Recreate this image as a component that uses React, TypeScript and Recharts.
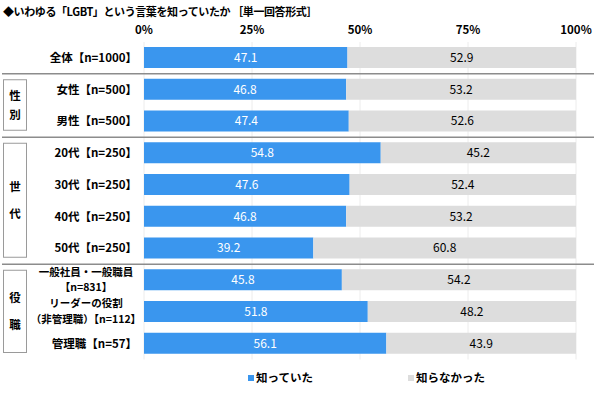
import React from 'react';
import { BarChart, Bar, XAxis, YAxis, CartesianGrid, LabelList, Customized } from 'recharts';

const categories = [
  '全体【n=1000】',
  '女性【n=500】',
  '男性【n=500】',
  '20代【n=250】',
  '30代【n=250】',
  '40代【n=250】',
  '50代【n=250】',
  '一般社員・一般職員\n【n=831】',
  'リーダーの役割\n（非管理職）【n=112】',
  '管理職【n=57】',
];
const knew = [47.1, 46.8, 47.4, 54.8, 47.6, 46.8, 39.2, 45.8, 51.8, 56.1];
const didNotKnow = [52.9, 53.2, 52.6, 45.2, 52.4, 53.2, 60.8, 54.2, 48.2, 43.9];
const xTicks = [0, 25, 50, 75, 100];
const seriesNames = ['知っていた', '知らなかった'];
const groups = [
  { label: '性別', from: 1, to: 2 },
  { label: '世代', from: 3, to: 6 },
  { label: '役職', from: 7, to: 9 },
];
const separatorsAfter = [0, 2, 6];
const title = '◆いわゆる「LGBT」という言葉を知っていたか ［単一回答形式］';

const data = categories.map((c, i) => ({ name: c, knew: knew[i], notKnew: didNotKnow[i] }));

const W = 600;
const H = 396;
const AXIS_H = 20;
const PLOT_TOP = 42;
const PLOT_BOTTOM = 359.5;
const M = { top: PLOT_TOP - AXIS_H, right: 24, bottom: H - PLOT_BOTTOM, left: 0 };
const YW = 144;
const BLUE = '#3A96EE';
const GRAY = '#DDDDDD';
const FONT = '"Noto Sans CJK JP", "Noto Sans", sans-serif';

const CatTick = (props: any) => {
  const { y, payload } = props;
  const lines = String(payload.value).split('\n');
  if (lines.length === 1) {
    return (
      <text x={137} y={y} dy={4} textAnchor="end" fontSize={11.5} fontWeight="bold" fill="#000" fontFamily={FONT}>
        {lines[0]}
      </text>
    );
  }
  return (
    <g>
      {lines.map((l, i) => (
        <text key={i} x={86} y={y + (i === 0 ? -8 : 7.5)} dy={3.5} textAnchor="middle" fontSize={10.5} fontWeight="bold" fill="#000" fontFamily={FONT}>
          {l}
        </text>
      ))}
    </g>
  );
};

const Decor = () => {
  const top = PLOT_TOP;
  const bottom = PLOT_BOTTOM;
  const band = (bottom - top) / categories.length;
  return (
    <g>
      <text x={3} y={16} fontSize={11} fontWeight="bold" fill="#000" fontFamily={FONT} letterSpacing={-0.4}>
        {title}
      </text>
      {separatorsAfter.map((i) => {
        const yy = top + band * (i + 1);
        return <line key={i} x1={2} x2={594} y1={yy} y2={yy} stroke="#8c8c8c" strokeWidth={1.5} />;
      })}
      {groups.map((g) => {
        const y1 = top + band * g.from + 6;
        const y2 = top + band * (g.to + 1) - 7;
        const cy = (y1 + y2) / 2;
        const gap = g.to - g.from >= 2 ? 27 : 19;
        return (
          <g key={g.label}>
            <rect x={3.5} y={y1} width={23} height={y2 - y1} fill="#fff" stroke="#9a9a9a" strokeWidth={1} />
            {g.label.split('').map((ch, k) => (
              <text key={k} x={15} y={cy + (k === 0 ? -gap / 2 : gap / 2)} dy={4} textAnchor="middle" fontSize={11.5} fontWeight="bold" fill="#000" fontFamily={FONT}>
                {ch}
              </text>
            ))}
          </g>
        );
      })}
      {[BLUE, GRAY].map((c, i) => {
        const lx = i === 0 ? 248 : 408;
        return (
          <g key={i}>
            <rect x={lx} y={375} width={6} height={6} fill={c} />
            <text x={lx + 8} y={382} fontSize={11.5} fontWeight="bold" fill="#000" fontFamily={FONT}>
              {seriesNames[i]}
            </text>
          </g>
        );
      })}
    </g>
  );
};

export default function App() {
  return (
    <div style={{ position: 'absolute', left: 0, top: 0, width: W, height: H, background: '#fff' }}>
      <BarChart width={W} height={H} data={data} layout="vertical" margin={M} barSize={21}>
        <CartesianGrid horizontal={false} vertical={true} stroke="#ececec" />
        <XAxis
          type="number"
          orientation="top"
          domain={[0, 100]}
          ticks={xTicks}
          tickFormatter={(v: number) => `${v}%`}
          axisLine={false}
          tickLine={false}
          height={AXIS_H}
          tick={{ fontSize: 11.5, fontWeight: 'bold', fill: '#000', fontFamily: FONT }}
          interval={0}
        />
        <YAxis type="category" dataKey="name" width={YW} axisLine={false} tickLine={false} tick={<CatTick />} interval={0} />
        <Bar dataKey="knew" stackId="a" fill={BLUE} isAnimationActive={false} name={seriesNames[0]}>
          <LabelList dataKey="knew" position="center" fill="#fff" fontSize={12} fontFamily={FONT} formatter={(v: any) => Number(v).toFixed(1)} />
        </Bar>
        <Bar dataKey="notKnew" stackId="a" fill={GRAY} isAnimationActive={false} name={seriesNames[1]}>
          <LabelList dataKey="notKnew" position="center" fill="#000" fontSize={12} fontFamily={FONT} formatter={(v: any) => Number(v).toFixed(1)} />
        </Bar>
        <Customized component={<Decor />} />
      </BarChart>
    </div>
  );
}
